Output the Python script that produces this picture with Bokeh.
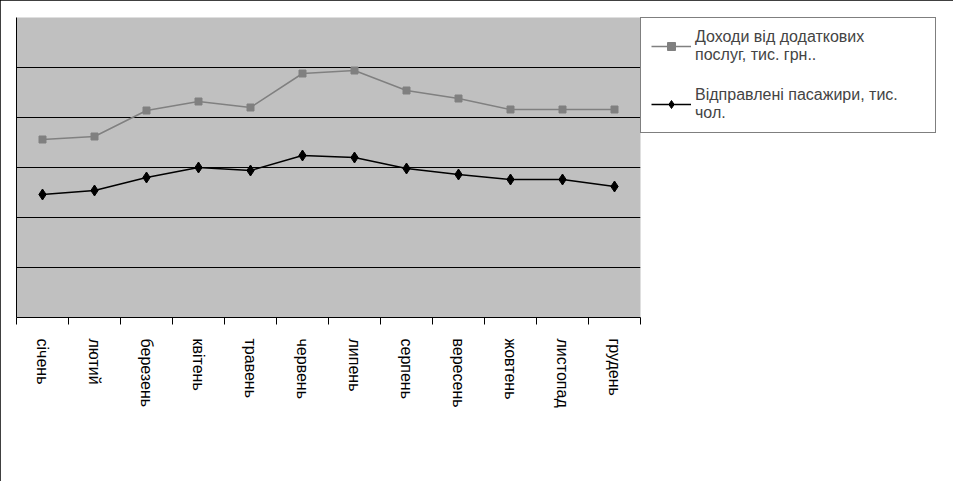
import math
from bokeh.plotting import figure
from bokeh.models import FixedTicker, Legend, LegendItem, Range1d
from bokeh.embed import file_html
from bokeh.resources import INLINE

months = ["січень", "лютий", "березень", "квітень", "травень", "червень",
          "липень", "серпень", "вересень", "жовтень", "листопад", "грудень"]
income = [3.56, 3.62, 4.14, 4.32, 4.20, 4.88, 4.94, 4.54, 4.38, 4.16, 4.16, 4.16]
passengers = [2.46, 2.54, 2.80, 3.00, 2.94, 3.24, 3.20, 2.98, 2.86, 2.76, 2.76, 2.62]

xs = [i + 0.5 for i in range(len(months))]

p = figure(frame_width=624, frame_height=300, output_backend="svg", toolbar_location=None,
           x_range=Range1d(0, 12), y_range=Range1d(0, 6),
           min_border_left=16, min_border_top=17, min_border_right=0,
           min_border_bottom=164)
p.styles = {"outline": "1px solid black", "outline-offset": "-1px",
            "width": "953px", "height": "481px", "overflow": "hidden"}
p.background_fill_color = "#c0c0c0"
p.outline_line_color = None

p.xaxis.ticker = FixedTicker(ticks=xs, minor_ticks=list(range(13)))
p.xaxis.major_label_overrides = {x: m for x, m in zip(xs, months)}
p.xaxis.major_tick_line_color = None
p.xaxis.minor_tick_in = 0
p.xaxis.minor_tick_out = 7
p.xaxis.major_label_standoff = 14
p.xaxis.major_label_orientation = -math.pi / 2
p.xaxis.major_label_text_font = "Liberation Sans"
p.xaxis.major_label_text_font_size = "16px"
p.xaxis.major_label_text_color = "black"
p.xaxis.axis_line_color = "black"
p.xaxis.minor_tick_line_color = "black"

p.yaxis.ticker = FixedTicker(ticks=list(range(7)))
p.yaxis.major_label_text_font_size = "0px"
p.yaxis.major_tick_line_color = None
p.yaxis.minor_tick_line_color = None
p.yaxis.axis_line_color = "black"

p.xgrid.grid_line_color = None
p.ygrid.ticker = FixedTicker(ticks=list(range(1, 7)))
p.ygrid.grid_line_color = "black"
p.ygrid.grid_line_alpha = 1

l1 = p.line(xs, income, line_color="#808080", line_width=1.5)
m1 = p.scatter(xs, income, marker="square", size=7, color="#808080")
l2 = p.line(xs, passengers, line_color="black", line_width=1.5)
m2 = p.scatter(xs, passengers, marker="diamond", size=11, color="black")

legend = Legend(items=[
    LegendItem(label="Доходи від додаткових\nпослуг, тис. грн..", renderers=[l1, m1]),
    LegendItem(label="Відправлені пасажири, тис.\nчол.", renderers=[l2, m2]),
], location="top_left", margin=0, padding=10, spacing=22, glyph_width=40,
    label_standoff=4, label_width=230,
    label_text_font="Liberation Sans", label_text_font_size="16px",
    label_text_line_height=1.5,
    border_line_color="black", background_fill_color="white")
p.add_layout(legend, "right")

open("out.html", "w").write(file_html(p, INLINE))
